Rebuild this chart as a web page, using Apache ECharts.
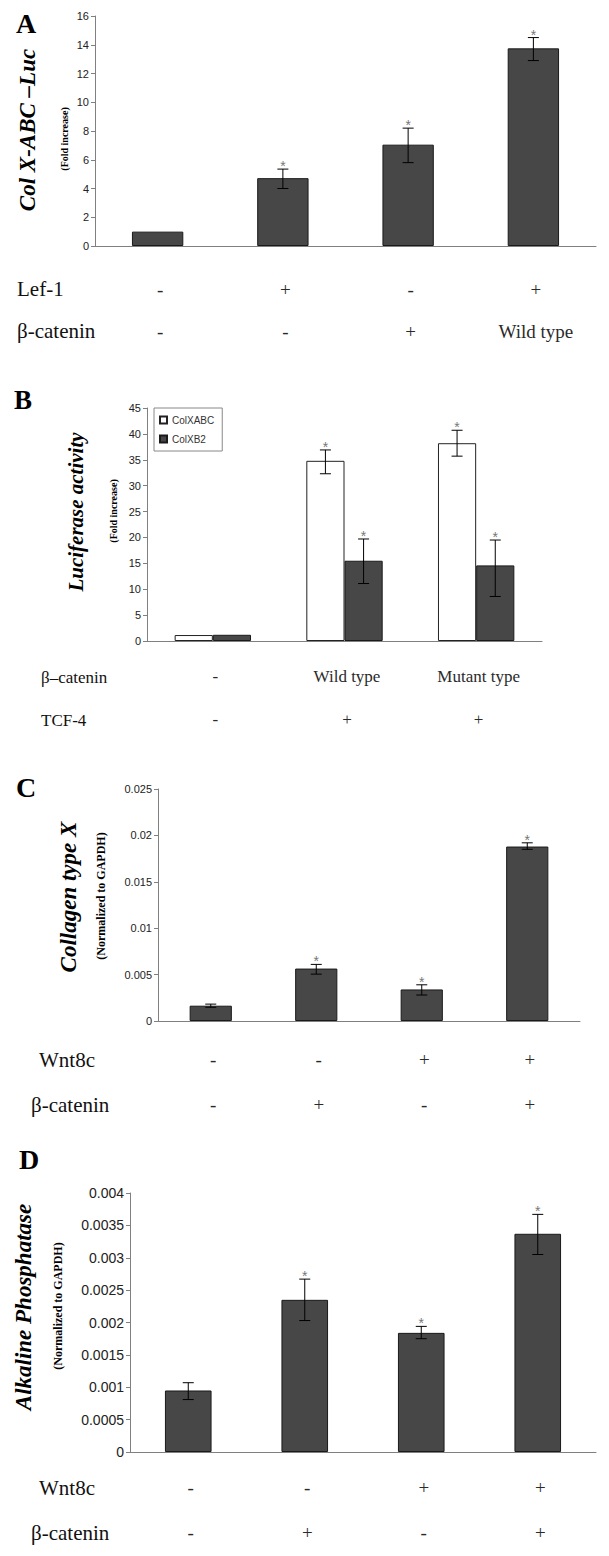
<!DOCTYPE html>
<html><head><meta charset="utf-8">
<script src="https://cdn.jsdelivr.net/npm/echarts@6/dist/echarts.min.js"></script>
<style>html,body{margin:0;padding:0;background:#fff}#c{width:609px;height:1556px}</style>
</head><body><div id="c"></div>
<script>
// ---------- Panel A ----------
const catsA = ['ctrl', 'Lef-1', 'β-catenin', 'Lef-1 + β-catenin WT'];
const rowA1 = ['-', '+', '-', '+'];            // Lef-1
const rowA2 = ['-', '-', '+', 'Wild type'];    // β-catenin
const valA = [1.0, 4.72, 7.05, 13.75];
const loA = [null, 4.0, 5.8, 12.9];
const hiA = [null, 5.35, 8.2, 14.5];
const starA = [0, 1, 1, 1];
const yTicksA = ['0', '2', '4', '6', '8', '10', '12', '14', '16'];

// ---------- Panel B ----------
const catsB = ['ctrl', 'WT + TCF-4', 'Mutant + TCF-4'];
const rowB1 = ['-', 'Wild type', 'Mutant type']; // β–catenin
const rowB2 = ['-', '+', '+'];                   // TCF-4
const seriesNamesB = ['ColXABC', 'ColXB2'];
const valB1 = [1.15, 34.8, 38.2];
const loB1 = [null, 32.3, 35.7];
const hiB1 = [null, 36.9, 40.7];
const starB1 = [0, 1, 1];
const valB2 = [1.2, 15.5, 14.6];
const loB2 = [null, 11.1, 8.6];
const hiB2 = [null, 19.7, 19.5];
const starB2 = [0, 1, 1];
const yTicksB = ['0', '5', '10', '15', '20', '25', '30', '35', '40', '45'];

// ---------- Panel C ----------
const catsC = ['ctrl', 'β-catenin', 'Wnt8c', 'Wnt8c + β-catenin'];
const rowC1 = ['-', '-', '+', '+'];   // Wnt8c
const rowC2 = ['-', '+', '-', '+'];   // β-catenin
const valC = [0.00165, 0.00565, 0.0034, 0.0188];
const loC = [0.00148, 0.00505, 0.0028, 0.0185];
const hiC = [0.00182, 0.0061, 0.0039, 0.0192];
const starC = [0, 1, 1, 1];
const yTicksC = ['0', '0.005', '0.01', '0.015', '0.02', '0.025'];

// ---------- Panel D ----------
const catsD = ['ctrl', 'β-catenin', 'Wnt8c', 'Wnt8c + β-catenin'];
const rowD1 = ['-', '-', '+', '+'];   // Wnt8c
const rowD2 = ['-', '+', '-', '+'];   // β-catenin
const valD = [0.00095, 0.00235, 0.00184, 0.00337];
const loD = [0.00081, 0.00203, 0.00175, 0.00305];
const hiD = [0.00107, 0.00267, 0.00194, 0.00367];
const starD = [0, 1, 1, 1];
const yTicksD = ['0', '0.0005', '0.001', '0.0015', '0.002', '0.0025', '0.003', '0.0035', '0.004'];

// ---------- helpers ----------
const SERIF = 'Liberation Serif';
const SANS = 'Liberation Sans';
const AX = '#808080';
const BAR = '#474747';

function xAx(gi, cats, r1, r2, fs, lh, margin) {
  return {
    type: 'category', gridIndex: gi, data: cats,
    axisLine: { lineStyle: { color: AX } },
    axisTick: { length: 5, lineStyle: { color: AX } },
    axisLabel: {
      interval: 0, margin: margin,
      formatter: (v, i) => '{r|' + r1[i] + '}\n{r|' + r2[i] + '}',
      rich: { r: { fontFamily: SERIF, fontSize: fs, lineHeight: lh, color: '#2a2a2a', padding: [0, 0, 0, 5] } }
    }
  };
}
function yAx(gi, ticks, fs) {
  const nums = ticks.map(Number);
  const min = nums[0], max = nums[nums.length - 1], step = nums[1] - nums[0];
  return {
    type: 'value', gridIndex: gi, min: min, max: max, interval: step,
    axisLine: { show: true, lineStyle: { color: AX } },
    axisTick: { show: true, length: 4, lineStyle: { color: AX } },
    splitLine: { show: false },
    axisLabel: {
      fontFamily: SANS, fontSize: fs, color: '#222', margin: 6,
      formatter: v => ticks[Math.round((v - min) / step)]
    }
  };
}
function errData(lo, hi, st) {
  const out = [];
  lo.forEach((l, i) => { if (l != null) out.push([i, l, hi[i], st[i]]); });
  return out;
}
function errItem(offFrac) {
  return function (params, api) {
    const i = api.value(0), lo = api.value(1), hi = api.value(2), st = api.value(3);
    const band = api.size([1, 0])[0];
    const pH = api.coord([i, hi]), pL = api.coord([i, lo]);
    const cx = pH[0] + offFrac * band;
    const cap = 5.5;
    const ls = { stroke: '#000', lineWidth: 1 };
    const ch = [
      { type: 'line', shape: { x1: cx, y1: pH[1], x2: cx, y2: pL[1] }, style: ls },
      { type: 'line', shape: { x1: cx - cap, y1: pH[1], x2: cx + cap, y2: pH[1] }, style: ls },
      { type: 'line', shape: { x1: cx - cap, y1: pL[1], x2: cx + cap, y2: pL[1] }, style: ls }
    ];
    if (st) ch.push({ type: 'text', x: cx, y: pH[1] - 3,
      style: { text: '*', fontFamily: SANS, fontSize: 14, fill: '#777', align: 'center', verticalAlign: 'middle', textAlign: 'center', textVerticalAlign: 'middle' } });
    return { type: 'group', children: ch };
  };
}
function errSeries(gi, lo, hi, st, off) {
  return { type: 'custom', xAxisIndex: gi, yAxisIndex: gi, z: 5,
    renderItem: errItem(off), data: errData(lo, hi, st), encode: { x: 0, y: [1, 2] } };
}
function txt(x, y, text, size, opts) {
  opts = opts || {};
  const align = opts.align || 'left';
  return { type: 'text', x: x, y: y, rotation: opts.rot || 0, silent: true,
    style: { text: text, fontFamily: SERIF, fontSize: size,
      fontWeight: opts.bold ? 'bold' : 'normal', fontStyle: opts.italic ? 'italic' : 'normal',
      fill: opts.fill || '#000', align: align, verticalAlign: 'middle',
      textAlign: align, textVerticalAlign: 'middle' } };
}
const R = Math.PI / 2;
const bGap = 42;
const bOff = (1 - bGap / 100) / 4;
const TITLE = { bold: true, italic: true, align: 'center', rot: R };
const SUB = { bold: true, align: 'center', rot: R };
const LET = { bold: true };
const ROW = { fill: '#111' };

const option = {
  animation: false,
  backgroundColor: '#fff',
  grid: [
    { left: 95, top: 16, width: 501, height: 230 },
    { left: 147, top: 408, width: 395, height: 233 },
    { left: 158, top: 789, width: 422, height: 232 },
    { left: 130, top: 1193, width: 466, height: 259 }
  ],
  xAxis: [
    xAx(0, catsA, rowA1, rowA2, 19, 42, 22),
    xAx(1, catsB, rowB1, rowB2, 17, 43, 14),
    xAx(2, catsC, rowC1, rowC2, 19, 45, 16),
    xAx(3, catsD, rowD1, rowD2, 19, 45, 13)
  ],
  yAxis: [
    yAx(0, yTicksA, 11),
    yAx(1, yTicksB, 11),
    yAx(2, yTicksC, 11),
    yAx(3, yTicksD, 14)
  ],
  legend: {
    data: seriesNamesB, left: 154, top: 408, orient: 'vertical', icon: 'rect',
    itemWidth: 7, itemHeight: 7, itemGap: 9, padding: [7, 8, 7, 5],
    borderColor: '#888', borderWidth: 1,
    textStyle: { fontFamily: SANS, fontSize: 10, color: '#333' }
  },
  series: [
    { type: 'bar', xAxisIndex: 0, yAxisIndex: 0, data: valA, barWidth: '41%',
      itemStyle: { color: BAR, borderColor: '#1a1a1a', borderWidth: 1 } },
    errSeries(0, loA, hiA, starA, 0),
    { name: seriesNamesB[0], type: 'bar', xAxisIndex: 1, yAxisIndex: 1, data: valB1,
      barGap: '0%', barCategoryGap: bGap + '%',
      itemStyle: { color: '#fff', borderColor: '#222', borderWidth: 1 } },
    { name: seriesNamesB[1], type: 'bar', xAxisIndex: 1, yAxisIndex: 1, data: valB2,
      barGap: '0%', barCategoryGap: bGap + '%',
      itemStyle: { color: BAR, borderColor: '#1a1a1a', borderWidth: 1 } },
    errSeries(1, loB1, hiB1, starB1, -bOff),
    errSeries(1, loB2, hiB2, starB2, bOff),
    { type: 'bar', xAxisIndex: 2, yAxisIndex: 2, data: valC, barWidth: '40%',
      itemStyle: { color: BAR, borderColor: '#1a1a1a', borderWidth: 1 } },
    errSeries(2, loC, hiC, starC, 0),
    { type: 'bar', xAxisIndex: 3, yAxisIndex: 3, data: valD, barWidth: '40%',
      itemStyle: { color: BAR, borderColor: '#1a1a1a', borderWidth: 1 } },
    errSeries(3, loD, hiD, starD, 0)
  ],
  graphic: [
    // panel letters
    txt(16, 23, 'A', 28, LET),
    txt(14, 400, 'B', 27, LET),
    txt(16, 787, 'C', 28, LET),
    txt(19, 1159, 'D', 28, LET),
    // axis titles
    txt(27, 130, 'Col X-ABC –Luc', 23, TITLE),
    txt(64, 139, '(Fold increase)', 10, SUB),
    txt(76, 512, 'Luciferase activity', 21, TITLE),
    txt(113, 511, '(Fold increase)', 10, SUB),
    txt(68, 897, 'Collagen type X', 23, TITLE),
    txt(101, 896, '(Normalized to GAPDH)', 12, SUB),
    txt(23, 1307, 'Alkaline Phosphatase', 23, TITLE),
    txt(58, 1306, '(Normalized to GAPDH)', 12, SUB),
    // row names
    txt(17, 289, 'Lef-1', 21, ROW),
    txt(17, 331, 'β-catenin', 21, ROW),
    txt(41, 677, 'β–catenin', 17, ROW),
    txt(41, 720, 'TCF-4', 17, ROW),
    txt(39, 1060, 'Wnt8c', 21, ROW),
    txt(31, 1105, 'β-catenin', 21, ROW),
    txt(39, 1488, 'Wnt8c', 21, ROW),
    txt(31, 1533, 'β-catenin', 21, ROW)
  ]
};
const chart = echarts.init(document.getElementById('c'), null, { renderer: 'svg' });
chart.setOption(option);
</script>
</body></html>
